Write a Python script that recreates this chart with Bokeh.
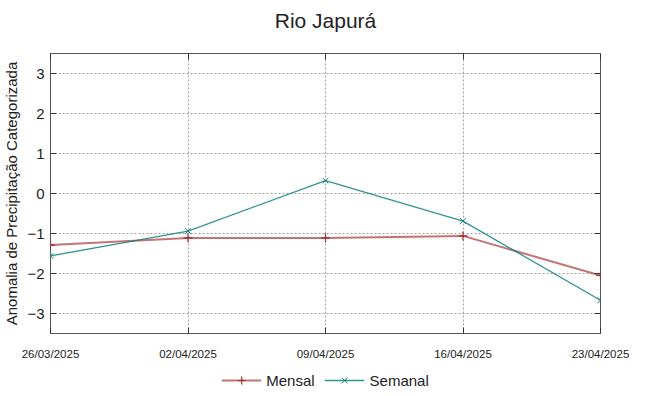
from datetime import datetime
from bokeh.plotting import figure
from bokeh.layouts import column
from bokeh.models import (FixedTicker, LinearAxis, DatetimeAxis, Label,
                          Legend, LegendItem, Range1d, DatetimeTickFormatter)
from bokeh.embed import file_html
from bokeh.resources import INLINE

title_text = "Rio Japurá"
dates = ["26/03/2025", "02/04/2025", "09/04/2025", "16/04/2025", "23/04/2025"]
mensal = [-1.29, -1.11, -1.11, -1.06, -2.05]
semanal = [-1.56, -0.94, 0.32, -0.69, -2.67]
yticks = [-3, -2, -1, 0, 1, 2, 3]

x = [datetime.strptime(d, "%d/%m/%Y") for d in dates]
xms = [(d - datetime(1970, 1, 1)).total_seconds() * 1000 for d in x]

FONT = "Liberation Sans"
RED = "#a52a2a"
TEAL = "#0e8080"

# title strip (its frame is aligned with the main plot's frame by the column)
tt = figure(width=632, height=36, output_backend="svg", toolbar_location=None,
            x_axis_location=None, y_axis_location=None,
            x_range=Range1d(0, 1), y_range=Range1d(0, 1),
            min_border_left=0, min_border_right=0, min_border_top=0, min_border_bottom=0,
            outline_line_color=None)
tt.grid.visible = False
tt.add_layout(Label(x=0.5, y=16, x_units="data", y_units="screen", text=title_text,
                    text_align="center", text_baseline="middle", text_font=FONT,
                    text_font_size="21px", text_color="#222222"))

p = figure(width=632, height=326, output_backend="svg", toolbar_location=None,
           x_axis_type="datetime", x_range=Range1d(xms[0], xms[-1]),
           y_range=Range1d(-3.5, 3.5),
           min_border_left=50, min_border_right=32, min_border_top=17, min_border_bottom=27)
p.outline_line_color = "#555555"
p.outline_line_width = 1

l1 = p.line(xms, mensal, line_color=RED, line_width=2, line_alpha=0.65)
m1 = p.scatter(xms, mensal, marker="cross", size=9, line_color=RED, line_width=1.2)
l2 = p.line(xms, semanal, line_color=TEAL, line_width=1.3, line_alpha=0.85)
m2 = p.scatter(xms, semanal, marker="x", size=8, line_color=TEAL, line_width=1.0)

xt = FixedTicker(ticks=xms)
yt = FixedTicker(ticks=yticks)

xa = p.xaxis[0]
xa.ticker = xt
xa.formatter = DatetimeTickFormatter(days="%d/%m/%Y", months="%d/%m/%Y", years="%d/%m/%Y")
ya = p.yaxis[0]
ya.ticker = yt
ya.axis_label = "Anomalia de Precipitação Categorizada"

for ax in (xa, ya):
    ax.axis_line_color = None
    ax.major_tick_in = 6
    ax.major_tick_out = 0
    ax.minor_tick_line_color = None
    ax.major_tick_line_color = "#333333"
    ax.major_label_text_font = FONT
    ax.major_label_text_color = "#222222"

xa.major_label_text_font_size = "11.5px"
xa.major_label_standoff = 14
ya.major_label_text_font_size = "15px"
ya.major_label_standoff = 6
ya.axis_label_text_font = FONT
ya.axis_label_text_font_size = "15px"
ya.axis_label_text_font_style = "normal"
ya.axis_label_text_color = "#222222"
ya.axis_label_standoff = 4

ra = LinearAxis(ticker=yt, axis_line_color=None, major_tick_in=6, major_tick_out=0,
                minor_tick_line_color=None, major_tick_line_color="#333333",
                major_label_text_alpha=0, major_label_standoff=0)
p.add_layout(ra, "right")
ta = DatetimeAxis(ticker=xt, axis_line_color=None, major_tick_in=6, major_tick_out=0,
                  minor_tick_line_color=None, major_tick_line_color="#333333",
                  major_label_text_alpha=0, major_label_standoff=0,
                  major_label_text_font_size="1px")
p.add_layout(ta, "above")

p.xgrid.ticker = xt
p.ygrid.ticker = yt
for g in (p.xgrid[0], p.ygrid[0]):
    g.grid_line_color = "#a0a0a0"
    g.grid_line_dash = "2 2"
    g.grid_line_width = 1

# legend strip: same series drawn far outside its visible range, only the legend shows
lg = figure(width=632, height=28, output_backend="svg", toolbar_location=None,
            x_axis_location=None, y_axis_location=None,
            x_range=Range1d(xms[0], xms[-1]), y_range=Range1d(100, 101),
            min_border_left=0, min_border_right=0, min_border_top=0, min_border_bottom=0,
            outline_line_color=None)
lg.grid.visible = False
d1 = lg.line(xms, mensal, line_color=RED, line_width=2, line_alpha=0.65)
e1 = lg.scatter(xms, mensal, marker="cross", size=9, line_color=RED, line_width=1.2)
d2 = lg.line(xms, semanal, line_color=TEAL, line_width=1.3, line_alpha=0.85)
e2 = lg.scatter(xms, semanal, marker="x", size=8, line_color=TEAL, line_width=1.0)
legend = Legend(items=[LegendItem(label="Mensal", renderers=[d1, e1]),
                       LegendItem(label="Semanal", renderers=[d2, e2])],
                orientation="horizontal", location="bottom_center",
                label_text_font=FONT, label_text_font_size="15px",
                label_text_color="#222222", border_line_color=None,
                background_fill_alpha=0, glyph_width=40, spacing=10,
                padding=2, margin=0)
lg.add_layout(legend)

layout = column(tt, p, lg, spacing=0)
open("out.html", "w").write(file_html(layout, INLINE))
